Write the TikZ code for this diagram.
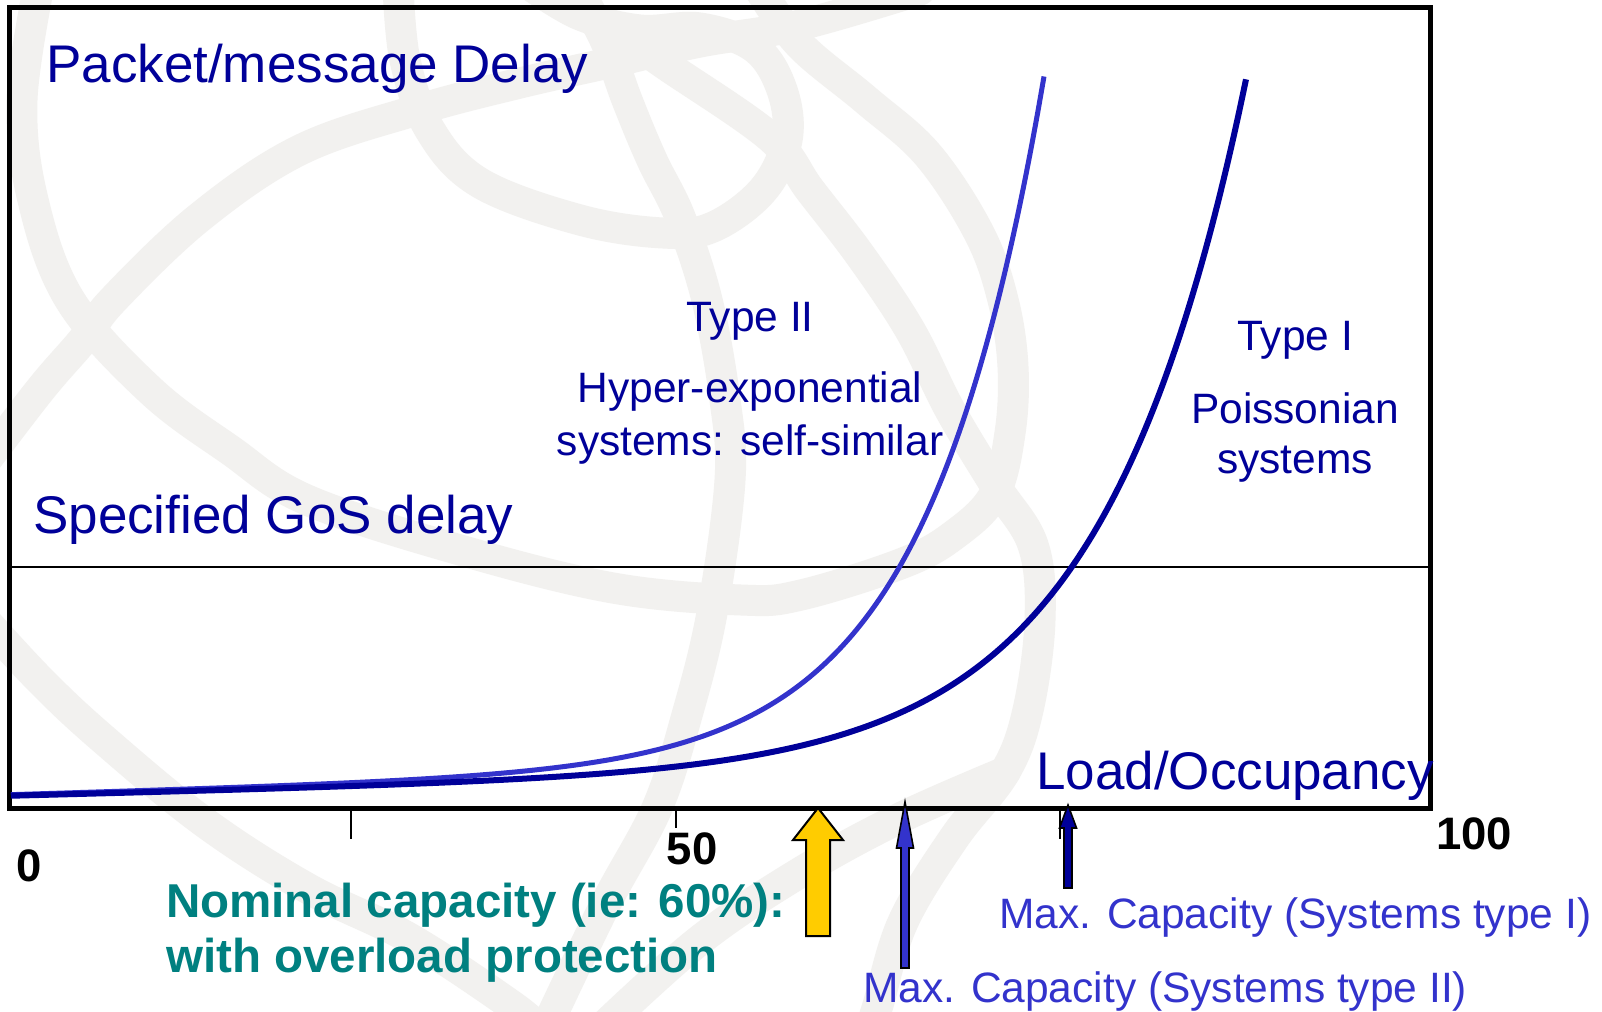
\documentclass[tikz,border=0pt]{standalone}
\usepackage{fontspec}
\setmainfont{Liberation Sans}
\definecolor{navy}{HTML}{000099}
\definecolor{midblue}{HTML}{3333CC}
\definecolor{tealtxt}{HTML}{008080}
\definecolor{gold}{HTML}{FFCC00}
\definecolor{wm}{RGB}{242,241,239}
\begin{document}
\begin{tikzpicture}[x=1pt,y=-1pt,
  wmband/.style={draw=wm,line width=31pt,line cap=round,line join=round},
  bigtxt/.style={text=navy,font=\fontsize{53}{60}\selectfont,inner sep=0pt},
  midtxt/.style={text=navy,font=\fontsize{42.5}{48}\selectfont,inner sep=0pt,anchor=base},
  captxt/.style={text=midblue,font=\fontsize{42.5}{48}\selectfont,inner sep=0pt,anchor=base west},
  nomtxt/.style={text=tealtxt,font=\bfseries\fontsize{47.5}{52}\selectfont,inner sep=0pt,anchor=base west},
  numtxt/.style={text=black,font=\bfseries\fontsize{45.5}{50}\selectfont,inner sep=0pt},
  blockarrow/.style={draw=black,line width=2pt,line join=miter},
  tickmark/.style={draw=black,line width=2pt}]
\useasboundingbox (0,0) rectangle (1602,1011);
\fill[white] (0,0) rectangle (1602,1011);
% watermark (faint globe logo)
\begin{scope}
\clip (0,0) rectangle (1602,1011);
\draw[wmband] plot[smooth,tension=0.6] coordinates {(40,-20) (22,100) (33,200) (70,300) (150,390) (230,450) (307,500) (460,550) (613,588) (741,600) (801,595) (903,563) (954,535) (994,495) (1010,433) (1013,367) (1003,300) (979,233) (928,155) (866,100) (800,45) (760,-10)};
\draw[wmband] plot[smooth,tension=0.6] coordinates {(-25,475) (40,390) (83,340) (113,300) (200,217) (300,150) (417,110) (520,83) (613,62) (700,42) (800,25) (920,-10)};
\draw[wmband] plot[smooth,tension=0.6] coordinates {(398,-15) (405,60) (430,130) (480,183) (580,220) (663,233) (713,227) (763,190) (787,140) (782,90) (755,48) (700,28) (640,30) (580,15) (530,-15)};
\draw[wmband] plot[smooth,tension=0.6] coordinates {(575,-15) (605,40) (627,100) (652,160) (680,217) (707,300) (725,400) (730,480) (712,613) (687,715) (657,808) (605,905) (545,1030)};
\draw[wmband] plot[smooth,tension=0.6] coordinates {(-20,615) (40,680) (102,738) (204,822) (307,888) (409,938) (511,1005) (540,1030)};
\draw[wmband] plot[smooth,tension=0.6] coordinates {(610,25) (663,63) (770,137) (810,190) (860,255) (910,330) (950,410) (995,485) (1033,545) (1040,620) (1028,710) (1005,772) (954,838) (903,922) (878,1005) (870,1030)};
\draw[wmband] plot[smooth,tension=0.6] coordinates {(600,1030) (700,940) (801,872) (900,818) (1005,772)};
\end{scope}
% frame and GoS line
\draw[line width=2.5pt] (9,567) -- (1430,567);
\draw[line width=5pt] (9,8) rectangle (1430,808);
\draw[tickmark] (351,810) -- (351,839);
\draw[tickmark] (676,810) -- (676,828);
\draw[tickmark] (1060,810) -- (1060,839);
% delay curves
\draw[midblue,line width=5pt] plot[domain=11:1044,samples=160,smooth] (\x,{795-0.0963*(exp(0.0085*\x)-1)-0.03*\x});
\draw[navy,line width=6pt] plot[domain=11:1246,samples=180,smooth] (\x,{796-0.1112*(exp(0.007*\x)-1)-0.025*\x});
% capacity arrows
\draw[blockarrow,fill=gold] (818,808) -- (843,840) -- (830,840) -- (830,936) -- (806,936) -- (806,840) -- (793,840) -- cycle;
\draw[blockarrow,line width=1.6pt,fill=midblue] (905,802) -- (913.5,848) -- (909,848) -- (909,968) -- (901,968) -- (901,848) -- (896.5,848) -- cycle;
\draw[blockarrow,line width=1.6pt,fill=navy] (1068,805) -- (1076.5,828) -- (1072,828) -- (1072,888) -- (1064,888) -- (1064,828) -- (1059.5,828) -- cycle;
% texts
\node[bigtxt,anchor=base west] (ylab) at (46,83) {Packet/message Delay};
\node[bigtxt,anchor=base west] (goslab) at (33,533) {Specified GoS delay};
\node[bigtxt,anchor=base west] (xlab) at (1036,789) {Load/Occupancy};
\node[midtxt] (t2a) at (750,331) {Type II};
\node[midtxt] (t2b) at (750,402) {Hyper-exponential};
\node[midtxt] (t2c) at (750,455) {systems: self-similar};
\node[midtxt] (t1a) at (1295,350) {Type I};
\node[midtxt] (t1b) at (1295,423) {Poissonian};
\node[midtxt] (t1c) at (1295,473) {systems};
\node[numtxt,anchor=base west] (n0) at (16,881) {0};
\node[numtxt,anchor=base] (n50) at (692,864) {50};
\node[numtxt,anchor=base] (n100) at (1474,849) {100};
\node[nomtxt] (nom1) at (166,917) {Nominal capacity (ie: 60\%):};
\node[nomtxt] (nom2) at (166,972) {with overload protection};
\node[captxt] (cap1) at (999,928) {Max. Capacity (Systems type I)};
\node[captxt] (cap2) at (863,1002) {Max. Capacity (Systems type II)};
\end{tikzpicture}
\end{document}
